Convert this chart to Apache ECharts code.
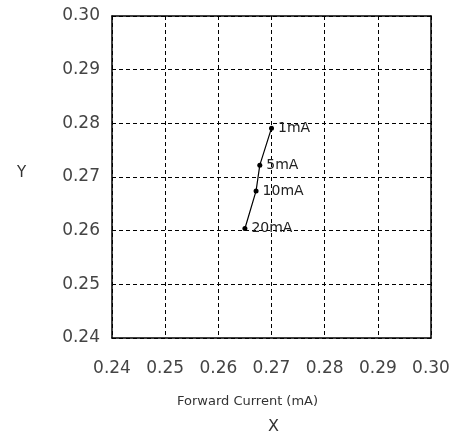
<!DOCTYPE html>
<html>
<head>
<meta charset="utf-8">
<script src="https://cdn.jsdelivr.net/npm/echarts@6/dist/echarts.min.js"></script>
<style>
  html, body { margin: 0; padding: 0; background: #fff; }
  #chart { width: 466px; height: 436px; }
</style>
</head>
<body>
<div id="chart"></div>
<script>
// chromaticity points at each forward current
const currents = ['1mA', '5mA', '10mA', '20mA']
const xValues = [0.2700, 0.2678, 0.2671, 0.2650]
const yValues = [0.2791, 0.2722, 0.2674, 0.2604]
const axisTicks = [0.24, 0.25, 0.26, 0.27, 0.28, 0.29, 0.30]

const font = 'DejaVu Sans'
const chart = echarts.init(document.getElementById('chart'))

const points = currents.map((c, i) => ({ name: c, value: [xValues[i], yValues[i]] }))

const valueAxis = {
  type: 'value',
  min: axisTicks[0],
  max: axisTicks[axisTicks.length - 1],
  interval: 0.01,
  axisLine: { show: true, onZero: false, lineStyle: { color: '#000', width: 1.5 } },
  axisTick: { show: false },
  splitLine: { show: true, lineStyle: { color: '#000', type: [4, 3], width: 1 } },
  axisLabel: {
    color: '#444',
    fontFamily: font,
    fontSize: 17,
    formatter: (v) => v.toFixed(2),
  },
}

// top/right frame edges
const frameAxis = {
  type: 'value',
  min: axisTicks[0],
  max: axisTicks[axisTicks.length - 1],
  interval: 0.01,
  axisLine: { show: true, onZero: false, lineStyle: { color: '#000', width: 1.5 } },
  axisTick: { show: false },
  axisLabel: { show: false },
  splitLine: { show: false },
}

chart.setOption({
  animation: false,
  backgroundColor: '#fff',
  grid: { left: 112, right: 35, top: 16, bottom: 98 },
  xAxis: [
    Object.assign({}, valueAxis, {
      axisLabel: Object.assign({}, valueAxis.axisLabel, { margin: 22 }),
    }),
    Object.assign({}, frameAxis, { position: 'top' }),
  ],
  yAxis: [
    Object.assign({}, valueAxis, {
      axisLabel: Object.assign({}, valueAxis.axisLabel, { margin: 12 }),
    }),
    Object.assign({}, frameAxis, { position: 'right' }),
  ],
  graphic: [
    {
      type: 'text', left: 17, top: 166,
      style: { text: 'Y', fill: '#333', font: '15px "DejaVu Sans"' },
    },
    {
      type: 'text', left: 177, top: 395,
      style: { text: 'Forward Current (mA)', fill: '#333', font: '13px "DejaVu Sans"' },
    },
    {
      type: 'text', left: 268, top: 419,
      style: { text: 'X', fill: '#333', font: '16px "DejaVu Sans"' },
    },
  ],
  series: [
    {
      type: 'line',
      data: points,
      symbol: 'circle',
      symbolSize: 5,
      itemStyle: { color: '#000' },
      lineStyle: { color: '#000', width: 1.2 },
      label: {
        show: true,
        position: 'right',
        distance: 4,
        formatter: (p) => p.name,
        color: '#222',
        fontFamily: font,
        fontSize: 14,
      },
    },
  ],
})
</script>
</body>
</html>
